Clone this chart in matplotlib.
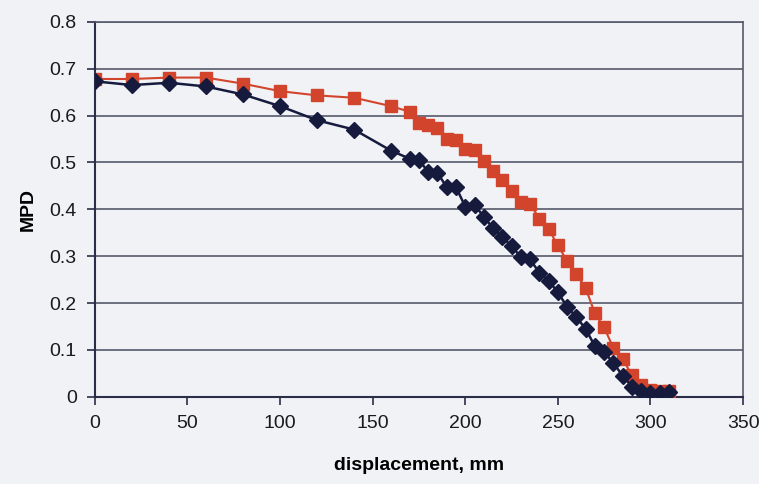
import matplotlib
matplotlib.use("Agg")
import matplotlib.pyplot as plt

displacement = [0, 20, 40, 60, 80, 100, 120, 140, 160, 170, 175, 180, 185, 190,
                195, 200, 205, 210, 215, 220, 225, 230, 235, 240, 245, 250, 255,
                260, 265, 270, 275, 280, 285, 290, 295, 300, 305, 310]

mpd_blue = [0.673, 0.665, 0.670, 0.662, 0.645, 0.620, 0.590, 0.570, 0.525, 0.508,
            0.505, 0.480, 0.478, 0.447, 0.447, 0.406, 0.410, 0.384, 0.360, 0.340,
            0.322, 0.298, 0.293, 0.265, 0.248, 0.223, 0.192, 0.170, 0.145, 0.108,
            0.096, 0.072, 0.045, 0.022, 0.012, 0.009, 0.009, 0.010]

mpd_red = [0.678, 0.678, 0.681, 0.681, 0.668, 0.652, 0.643, 0.638, 0.620, 0.608,
           0.585, 0.580, 0.573, 0.550, 0.547, 0.528, 0.527, 0.503, 0.482, 0.463,
           0.440, 0.415, 0.412, 0.380, 0.358, 0.323, 0.290, 0.262, 0.232, 0.178,
           0.148, 0.104, 0.080, 0.047, 0.025, 0.015, 0.012, 0.012]

plt.rcParams['font.family'] = ['Liberation Sans', 'DejaVu Sans']

bg = '#f1f2f6'
fig = plt.figure(figsize=(7.59, 4.84), dpi=100, facecolor=bg)
ax = fig.add_axes([0.125, 0.180, 0.854, 0.775], facecolor=bg)

ax.plot(displacement, mpd_red, color='#d2452c', marker='s', markersize=8.5,
        linewidth=1.5, zorder=3)
ax.plot(displacement, mpd_blue, color='#161b3d', marker='D', markersize=8,
        linewidth=1.8, zorder=4)

ax.set_xlim(0, 350)
ax.set_ylim(0, 0.8)
ax.set_xticks(range(0, 351, 50))
ax.set_yticks([i / 10 for i in range(9)])
ax.set_yticklabels(['0'] + ['%.1f' % (i / 10) for i in range(1, 9)])

ax.grid(axis='y', color='#55596a', linewidth=1.2)
ax.set_axisbelow(True)
for s in ['left', 'bottom']:
    ax.spines[s].set_color('#2a2e48')
    ax.spines[s].set_linewidth(1.5)
for s in ['top', 'right']:
    ax.spines[s].set_color('#55596a')
    ax.spines[s].set_linewidth(1.2)

ax.tick_params(axis='both', direction='out', length=6, width=1.2, color='#2a2e48',
               labelsize=14, labelcolor='#1a1a1a', pad=7)

ax.set_xlabel('displacement, mm', fontsize=14, fontweight='bold', labelpad=18)
ax.set_ylabel('MPD', fontsize=14, fontweight='bold', labelpad=9)

fig.savefig('out.png', dpi=100, facecolor=bg)
